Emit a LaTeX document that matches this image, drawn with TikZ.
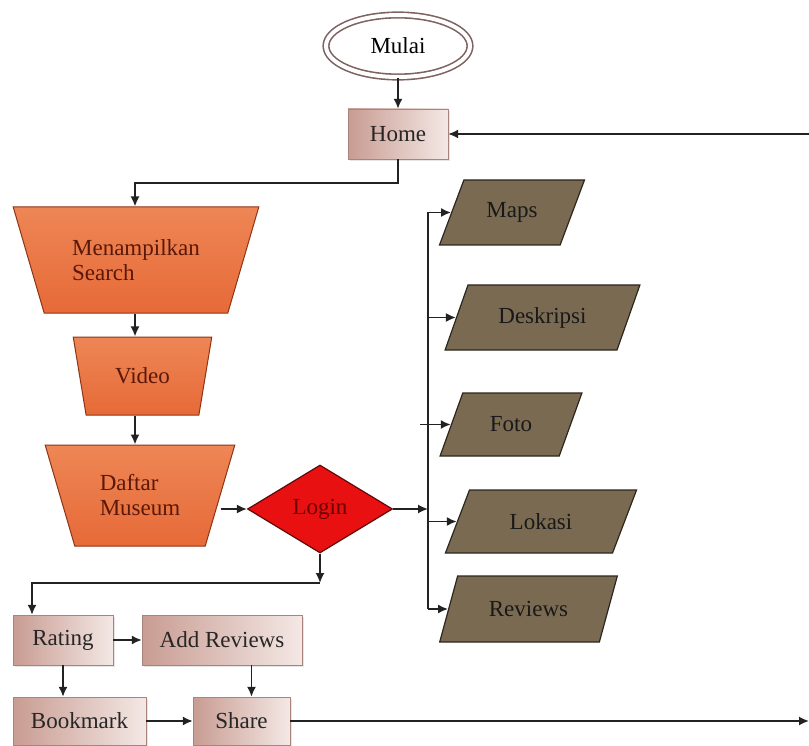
\documentclass[tikz,border=0pt]{standalone}
\usepackage{fontspec}
\setmainfont{Liberation Serif}
\usetikzlibrary{shapes.geometric, arrows.meta, shadows}

\definecolor{rosel}{HTML}{C89C92}
\definecolor{roser}{HTML}{F4E8E5}
\definecolor{rosebrd}{HTML}{A8847C}
\definecolor{ortop}{HTML}{EE8655}
\definecolor{ormid}{HTML}{D9521F}
\definecolor{orbot}{HTML}{E66A38}
\definecolor{orbrd}{HTML}{8E3416}
\definecolor{ortext}{HTML}{5A1808}
\definecolor{iofill}{HTML}{7A6A52}
\definecolor{iobrd}{HTML}{2C271E}
\definecolor{loginred}{HTML}{E81010}
\definecolor{loginbrd}{HTML}{5E0A0A}
\definecolor{logintext}{HTML}{6A0000}
\definecolor{mulaic}{HTML}{7E6260}
\definecolor{linec}{HTML}{222222}

\tikzset{
  conn/.style={draw=linec, line width=1.7pt},
  arr/.style={conn, -{Latex[length=10pt,width=9pt]}},
  start/.style={ellipse, draw=mulaic, double, double distance=4pt, line width=1.6pt,
    minimum width=144pt, minimum height=62pt, inner sep=0pt},
  box/.style={draw=rosebrd, left color=rosel, right color=roser, inner sep=0pt,
    minimum height=50pt, text=black!85,
    drop shadow={shadow xshift=2pt, shadow yshift=-2pt, fill=black!20}},
  funnel/.style={trapezium, shape border rotate=180, trapezium stretches=true,
    draw=orbrd, line width=1pt, top color=ortop, middle color=ormid, bottom color=orbot,
    inner sep=0pt, align=left, text=ortext},
  io/.style={trapezium, trapezium stretches=true, trapezium left angle=57,
    trapezium right angle=123, fill=iofill, draw=iobrd, line width=1.2pt,
    inner sep=0pt, text=black!90},
  decision/.style={diamond, minimum width=145pt, minimum height=88pt, inner sep=0pt,
    fill=loginred, draw=loginbrd, line width=1.2pt, text=logintext},
}

\begin{document}
\begin{tikzpicture}[x=1pt, y=-1pt, font=\fontsize{23}{25}\selectfont]
  \useasboundingbox (0, 0) rectangle (809, 746);

  % depart
  \node[start] at (398, 46) (mulai) {Mulai};
  \node[box, minimum width=100pt] at (398, 134) (home) {Home};
  \draw[arr] (mulai) -- (home);

  % colonne de gauche
  \node[funnel, trapezium angle=62.4, minimum width=246pt, minimum height=106pt]
    at (136, 260) (search) {Menampilkan\\Search};
  \node[funnel, trapezium angle=69, minimum width=139pt, minimum height=78pt]
    at (142.5, 376) (video) {Video};
  \node[funnel, trapezium angle=66.2, minimum width=190pt, minimum height=101pt]
    at (140, 495.5) (daftar) {Daftar\\Museum};

  \coordinate (k1) at (135, 183);
  \draw[arr] (home.south) |- (k1) -- (k1 |- search.north);
  \draw[arr] (k1 |- search.south) -- (k1 |- video.north);
  \draw[arr] (k1 |- video.south) -- (k1 |- daftar.north);

  % login
  \node[decision] at (320, 509) (login) {Login};
  \draw[arr] (daftar.east |- login) -- (login);

  % sorties
  \node[io, minimum width=146pt, minimum height=65pt] at (512, 212.5) (maps) {Maps};
  \node[io, minimum width=195pt, minimum height=65pt] at (542.5, 317.5) (deskripsi) {Deskripsi};
  \node[io, minimum width=142pt, minimum height=63pt] at (511, 424.5) (foto) {Foto};
  \node[io, minimum width=192pt, minimum height=63pt] at (541, 521.5) (lokasi) {Lokasi};
  \node[io, minimum width=179pt, minimum height=66pt] at (528.5, 609) (reviews) {Reviews};

  \coordinate (trunk) at (428, 509);
  \draw[arr] (login) -- (trunk);
  \draw[conn] (trunk |- maps.west) -- (trunk |- reviews.west);
  \foreach \n in {maps, deskripsi, lokasi, reviews}
    \draw[arr] (trunk |- \n.west) -- (\n.west);
  \draw[arr] ([xshift=-8pt]trunk |- foto.west) -- (foto.west);

  % bas
  \node[box, minimum width=100pt] at (63, 640) (rating) {Rating};
  \node[box, minimum width=160pt] at (222, 640) (addrev) {Add Reviews};
  \node[box, minimum width=133pt, minimum height=48pt] at (79.5, 721) (bookmark) {Bookmark};
  \node[box, minimum width=97pt, minimum height=48pt] at (241.5, 721) (share) {Share};

  \coordinate (k2) at (320, 583);
  \coordinate (k3) at (32, 583);
  \draw[arr] (login) -- (k2);
  \draw[arr] (k2) -- (k3) -- (k3 |- rating.north);

  \draw[arr] (rating) -- (addrev);
  \draw[arr] (rating.south) -- (rating.south |- bookmark.north);
  \draw[arr] ([xshift=10pt]share.north |- addrev.south) -- ([xshift=10pt]share.north);
  \draw[arr] (bookmark) -- (share);

  % retour vers home
  \coordinate (rbot) at (809, 721);
  \coordinate (rtop) at (809, 134);
  \draw[arr] (share) -- (rbot);
  \draw[arr] (rtop) -- (home);
\end{tikzpicture}
\end{document}
